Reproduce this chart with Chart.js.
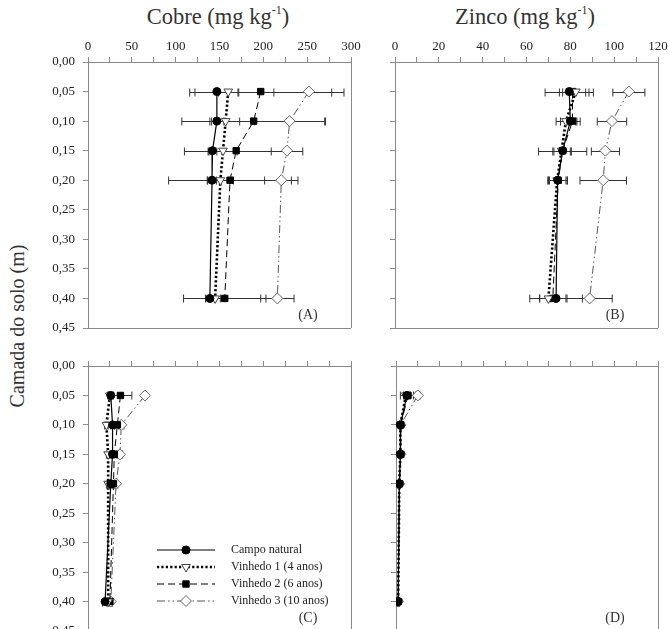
<!DOCTYPE html>
<html>
<head>
<meta charset="utf-8">
<script src="https://cdn.jsdelivr.net/npm/chart.js@4.4.0/dist/chart.umd.min.js"></script>
<style>
html, body { margin: 0; padding: 0; background: #fff; overflow: hidden; }
#wrap { position: relative; width: 668px; height: 629px; overflow: hidden; background: #fff; }
canvas { position: absolute; }
.title { position: absolute; top: 4px; font-family: 'Liberation Serif', 'DejaVu Serif', serif; font-size: 22.5px; color: #333; white-space: nowrap; transform: translateX(-50%); }
.title sup { font-size: 12px; position: relative; top: -2px; }
#ytitle { position: absolute; left: 17px; top: 326px; font-family: 'Liberation Serif', 'DejaVu Serif', serif; font-size: 20px; color: #333; white-space: nowrap; transform: translate(-50%, -50%) rotate(-90deg); }
</style>
</head>
<body>
<div id="wrap">
  <div class="title" style="left:218px">Cobre (mg kg<sup>-1</sup>)</div>
  <div class="title" style="left:525px">Zinco (mg kg<sup>-1</sup>)</div>
  <div id="ytitle">Camada do solo (m)</div>
  <canvas id="panelA" width="370" height="348" style="left:0;top:0"></canvas>
  <canvas id="panelB" width="330" height="340" style="left:350px;top:0"></canvas>
  <canvas id="panelC" width="370" height="321" style="left:0;top:330px"></canvas>
  <canvas id="panelD" width="330" height="310" style="left:350px;top:330px"></canvas>
</div>
<script>
const depths = [0.05, 0.10, 0.15, 0.20, 0.40];
const seriesNames = ['Campo natural', 'Vinhedo 1 (4 anos)', 'Vinhedo 2 (6 anos)', 'Vinhedo 3 (10 anos)'];

// (A) cobre
const cuNatural = [147, 147, 142, 141.5, 139];
const cuNaturalErr = [25, 8, 5, 5, 5];
const cuV1 = [160, 157, 154, 151, 145];
const cuV1Err = [11, 16, 16, 15, 6];
const cuV2 = [197, 189, 169, 162, 156];
const cuV2Err = [81, 82, 59, 70, 47];
const cuV3 = [252, 230, 227, 220.5, 216];
const cuV3Err = [40, 40, 18, 19, 19];

// (B) zinco
const znNatural = [79.5, 80, 76.5, 74.2, 73.5];
const znNaturalErr = [11, 4.5, 11, 4.5, 12];
const znV1 = [82.5, 78, 76, 74, 70];
const znV1Err = [6, 4.5, 4, 4, 4];
const znV2 = [81, 81, 76.5, 74.5, 72];
const znV2Err = [6, 2, 4, 4, 6];
const znV3 = [106.7, 99, 96, 95, 88.8];
const znV3Err = [7.3, 6.7, 6.4, 10.6, 10.3];

// (C) cobre
const cuNaturalC = [26, 28, 28, 26, 19.5];
const cuNaturalCErr = [3, 2, 2, 2, 3];
const cuV1C = [25, 21, 23, 23, 23];
const cuV1CErr = [2, 2, 2, 2, 2];
const cuV2C = [37, 33.5, 30, 29, 25];
const cuV2CErr = [13, 3, 3, 2, 2];
const cuV3C = [65, 38, 36.5, 32, 26];
const cuV3CErr = [2, 3, 3, 2, 2];

// (D) zinco
const znNaturalD = [5, 2, 2, 1.5, 1];
const znNaturalDErr = [3, 0.5, 0.5, 0.5, 0.5];
const znV1D = [4.5, 2, 2, 1.5, 1];
const znV1DErr = [1, 0.5, 0.5, 0.5, 0.5];
const znV2D = [5.5, 2.2, 2.2, 1.6, 1];
const znV2DErr = [1, 0.5, 0.5, 0.5, 0.5];
const znV3D = [10, 2.1, 2, 1.5, 1];
const znV3DErr = [1, 0.5, 0.5, 0.5, 0.5];

const serif = "'Liberation Serif', 'DejaVu Serif', serif";
const axisGray = '#8a8a8a';

const styles = [
  { borderColor: '#000', borderWidth: 1.2, borderDash: [], pointStyle: 'circle', pointRadius: 4, rotation: 0, pointBackgroundColor: '#000', pointBorderColor: '#000' },
  { borderColor: '#000', borderWidth: 2.6, borderDash: [2.2, 2.2], pointStyle: 'triangle', pointRadius: 5, rotation: 180, pointBackgroundColor: '#fff', pointBorderColor: '#444' },
  { borderColor: '#000', borderWidth: 1, borderDash: [7, 4], pointStyle: 'rect', pointRadius: 4.5, rotation: 0, pointBackgroundColor: '#000', pointBorderColor: '#000' },
  { borderColor: '#555', borderWidth: 1, borderDash: [8, 3, 1.5, 3, 1.5, 3], pointStyle: 'rectRot', pointRadius: 5.5, rotation: 0, pointBackgroundColor: '#fff', pointBorderColor: '#666' }
];

function points(vals, errs) {
  return vals.map((v, i) => ({ x: v, y: depths[i], err: errs[i] }));
}

const errorBars = {
  id: 'errorBars',
  beforeDatasetsDraw(chart) {
    const ctx = chart.ctx, xs = chart.scales.x, ys = chart.scales.y;
    ctx.save();
    ctx.strokeStyle = '#333';
    ctx.lineWidth = 1;
    chart.data.datasets.forEach(ds => {
      ds.data.forEach(p => {
        const y = Math.round(ys.getPixelForValue(p.y)) + 0.5;
        const x1 = xs.getPixelForValue(p.x - p.err);
        const x2 = xs.getPixelForValue(p.x + p.err);
        ctx.beginPath();
        ctx.moveTo(x1, y); ctx.lineTo(x2, y);
        ctx.moveTo(x1, y - 4); ctx.lineTo(x1, y + 4);
        ctx.moveTo(x2, y - 4); ctx.lineTo(x2, y + 4);
        ctx.stroke();
      });
    });
    ctx.restore();
  }
};

const frame = {
  id: 'frame',
  afterDraw(chart, args, opts) {
    const a = chart.chartArea, ctx = chart.ctx;
    ctx.save();
    ctx.strokeStyle = axisGray;
    ctx.lineWidth = 1;
    ctx.beginPath();
    ctx.moveTo(Math.round(a.right) + 0.5, a.top);
    ctx.lineTo(Math.round(a.right) + 0.5, a.bottom);
    ctx.moveTo(a.left, Math.round(a.bottom) + 0.5);
    ctx.lineTo(a.right, Math.round(a.bottom) + 0.5);
    ctx.stroke();
    ctx.fillStyle = '#333';
    ctx.font = '14px ' + serif;
    ctx.textAlign = 'center';
    ctx.textBaseline = 'middle';
    ctx.fillText(opts.tag, a.right - 43, a.bottom - 13);

    if (opts.legend) {
      ctx.font = '12px ' + serif;
      ctx.textAlign = 'left';
      chart.data.datasets.forEach((ds, i) => {
        const y = a.top + 184 + i * 17;
        const x0 = a.left + 69, x1 = a.left + 127, xm = (x0 + x1) / 2;
        ctx.strokeStyle = ds.borderColor;
        ctx.lineWidth = ds.borderWidth;
        ctx.setLineDash(ds.borderDash);
        ctx.beginPath();
        ctx.moveTo(x0, y); ctx.lineTo(x1, y);
        ctx.stroke();
        ctx.setLineDash([]);
        ctx.lineWidth = 1;
        ctx.fillStyle = ds.pointBackgroundColor;
        ctx.strokeStyle = ds.pointBorderColor;
        Chart.helpers.drawPoint(ctx, { pointStyle: ds.pointStyle, rotation: ds.rotation, radius: ds.pointRadius, borderWidth: 1 }, xm, y);
        ctx.fillStyle = '#222';
        ctx.fillText(ds.label, a.left + 143, y);
      });
    }
    ctx.restore();
  }
};

function makePanel(id, series, errs, cfg) {
  const datasets = series.map((vals, i) => Object.assign({
    label: seriesNames[i],
    data: points(vals, errs[i]),
    showLine: true,
    fill: false,
    pointBorderWidth: 1
  }, styles[i]));

  new Chart(document.getElementById(id), {
    type: 'scatter',
    data: { datasets: datasets },
    options: {
      responsive: false,
      animation: false,
      events: [],
      layout: { padding: { left: 0, top: 0, right: cfg.padRight, bottom: cfg.padBottom } },
      plugins: {
        legend: { display: false },
        tooltip: { enabled: false },
        frame: { tag: cfg.tag, legend: cfg.legend }
      },
      scales: {
        x: {
          type: 'linear',
          position: 'top',
          min: 0,
          max: cfg.max,
          afterFit(s) { s.height = cfg.xHeight; },
          border: { color: axisGray },
          grid: { drawOnChartArea: false, tickLength: 5, color: axisGray },
          ticks: {
            display: cfg.showX,
            stepSize: cfg.minorStep,
            autoSkip: false,
            maxRotation: 0,
            padding: 3,
            color: '#222',
            font: { family: serif, size: 13 },
            callback: v => (Math.round(v) % cfg.labelStep === 0 ? String(Math.round(v)) : '')
          }
        },
        y: {
          type: 'linear',
          reverse: true,
          min: 0,
          max: 0.45,
          afterFit(s) { s.width = cfg.yWidth; },
          border: { color: axisGray },
          grid: { drawOnChartArea: false, tickLength: 5, color: axisGray },
          ticks: {
            display: cfg.showY,
            stepSize: 0.05,
            padding: 8,
            color: '#222',
            font: { family: serif, size: 13 },
            callback: v => v.toFixed(2).replace('.', ',')
          }
        }
      }
    },
    plugins: [errorBars, frame]
  });
}

makePanel('panelA', [cuNatural, cuV1, cuV2, cuV3], [cuNaturalErr, cuV1Err, cuV2Err, cuV3Err],
  { max: 300, minorStep: 25, labelStep: 50, showX: true, showY: true, yWidth: 88, xHeight: 62, padRight: 19, padBottom: 20, tag: '(A)', legend: false });

makePanel('panelB', [znNatural, znV1, znV2, znV3], [znNaturalErr, znV1Err, znV2Err, znV3Err],
  { max: 120, minorStep: 10, labelStep: 20, showX: true, showY: false, yWidth: 45, xHeight: 62, padRight: 22, padBottom: 12, tag: '(B)', legend: false });

makePanel('panelC', [cuNaturalC, cuV1C, cuV2C, cuV3C], [cuNaturalCErr, cuV1CErr, cuV2CErr, cuV3CErr],
  { max: 300, minorStep: 25, labelStep: 50, showX: false, showY: true, yWidth: 88, xHeight: 36, padRight: 19, padBottom: 20, tag: '(C)', legend: true });

makePanel('panelD', [znNaturalD, znV1D, znV2D, znV3D], [znNaturalDErr, znV1DErr, znV2DErr, znV3DErr],
  { max: 120, minorStep: 10, labelStep: 20, showX: false, showY: false, yWidth: 46, xHeight: 36, padRight: 22, padBottom: 9, tag: '(D)', legend: false });
</script>
</body>
</html>
